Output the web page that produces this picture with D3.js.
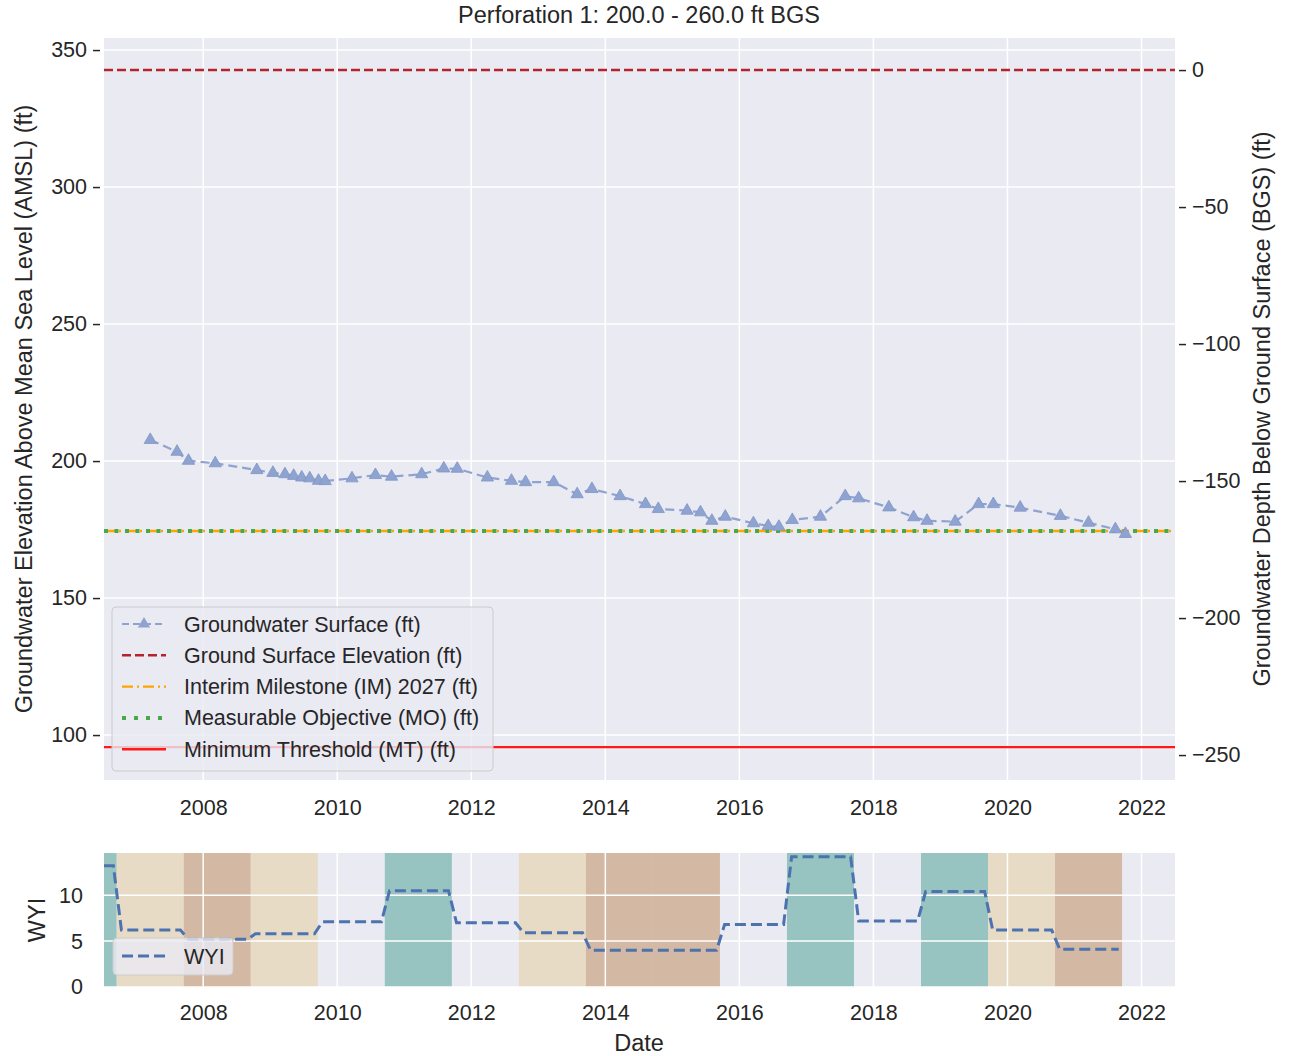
<!DOCTYPE html>
<html>
<head>
<meta charset="utf-8">
<script src="https://cdn.jsdelivr.net/npm/d3@7"></script>
<style>
  body { margin: 0; background: #fff; }
  svg { font-family: "Liberation Sans", Arial, sans-serif; }
</style>
</head>
<body>
<svg id="chart" width="1289" height="1056"></svg>
<script>
(function() {

// groundwater surface elevation readings (decimal year, ft AMSL)
var gwDates = [2007.21, 2007.61, 2007.78, 2008.18, 2008.80, 2009.04, 2009.22, 2009.35, 2009.47, 2009.59,
               2009.72, 2009.82, 2010.22, 2010.57, 2010.81, 2011.26, 2011.59, 2011.79, 2012.24, 2012.60,
               2012.81, 2013.23, 2013.58, 2013.80, 2014.22, 2014.60, 2014.79, 2015.22, 2015.42, 2015.59,
               2015.79, 2016.21, 2016.43, 2016.59, 2016.79, 2017.21, 2017.58, 2017.78, 2018.23, 2018.60,
               2018.80, 2019.22, 2019.57, 2019.79, 2020.19, 2020.79, 2021.21, 2021.61, 2021.76];
var gwValues = [207.7, 203.4, 200.1, 199.2, 196.7, 195.7, 195.2, 194.6, 194.0, 193.7,
                192.8, 192.7, 193.7, 194.9, 194.3, 195.2, 197.3, 197.2, 194.0, 192.8,
                192.3, 192.3, 187.9, 189.8, 187.2, 184.3, 182.5, 181.9, 181.3, 178.2,
                179.7, 177.3, 176.3, 176.0, 178.5, 179.7, 187.2, 186.4, 183.1, 179.5,
                178.2, 177.9, 184.3, 184.3, 183.0, 180.0, 177.5, 175.1, 173.4];

// reference levels (ft AMSL)
var groundSurface = 342.7;
var interimMilestone = 174.5;
var measurableObjective = 174.5;
var minimumThreshold = 95.6;

// water year index
var waterYears = [2006, 2007, 2008, 2009, 2010, 2011, 2012, 2013, 2014, 2015, 2016, 2017, 2018, 2019, 2020, 2021];
var wyiValues  = [13.2, 6.2, 5.2, 5.8, 7.1, 10.5, 7.0, 5.9, 4.0, 4.0, 6.8, 14.2, 7.2, 10.4, 6.2, 4.1];
var wyTypes    = ['W', 'BN', 'D', 'BN', 'AN', 'W', 'AN', 'BN', 'D', 'D', 'AN', 'W', 'AN', 'W', 'BN', 'D'];

var leftTicks = [100, 150, 200, 250, 300, 350];
var rightTicks = [-250, -200, -150, -100, -50, 0];
var yearTicks = [2008, 2010, 2012, 2014, 2016, 2018, 2020, 2022];
var wyiTicks = [0, 5, 10];

var typeColor = { W: '#97c4c0', AN: null, BN: '#e8dbc6', D: '#d3b8a3' };

var svg = d3.select('#chart');
var textColor = '#262626';
var bg = '#eaeaf2';
var tickFont = 21.5;
var labelFont = 23.5;

var plotL = 104, plotR = 1175;
var top1 = 38, bot1 = 780;
var top2 = 853, bot2 = 987;

var x = d3.scaleLinear().domain([2006.52, 2022.5]).range([plotL, plotR]);
var y = d3.scaleLinear().domain([83.6, 354.4]).range([bot1, top1]);
var yRight = d3.scaleLinear()
    .domain([83.6 - groundSurface, 354.4 - groundSurface]).range([bot1, top1]);
var y2 = d3.scaleLinear().domain([0, 14.6]).range([bot2, top2]);

// ---------- top panel ----------
svg.append('rect').attr('x', plotL).attr('y', top1)
    .attr('width', plotR - plotL).attr('height', bot1 - top1).attr('fill', bg);

var g1 = svg.append('g');

g1.selectAll('.hgrid').data(leftTicks).enter().append('line')
    .attr('x1', plotL).attr('x2', plotR)
    .attr('y1', function(d) { return y(d); }).attr('y2', function(d) { return y(d); })
    .attr('stroke', '#fff').attr('stroke-width', 1.5);
g1.selectAll('.vgrid').data(yearTicks).enter().append('line')
    .attr('x1', function(d) { return x(d); }).attr('x2', function(d) { return x(d); })
    .attr('y1', top1).attr('y2', bot1)
    .attr('stroke', '#fff').attr('stroke-width', 1.5);

function hline(v, color, width, dash) {
    g1.append('line')
        .attr('x1', plotL).attr('x2', plotR)
        .attr('y1', y(v)).attr('y2', y(v))
        .attr('stroke', color).attr('stroke-width', width)
        .attr('stroke-dasharray', dash);
}

hline(groundSurface, '#b5242c', 2.4, '9,4');
hline(interimMilestone, '#ffa500', 2.4, '11,4,2,4');
hline(measurableObjective, '#4aa84a', 4, '4,6.5');
hline(minimumThreshold, '#ff1a1a', 2.4, null);

var gwData = gwDates.map(function(d, i) { return [d, gwValues[i]]; });
var gwColor = '#8fa3d1';

g1.append('path').datum(gwData)
    .attr('fill', 'none').attr('stroke', gwColor).attr('stroke-width', 2.2)
    .attr('stroke-dasharray', '9,5')
    .attr('d', d3.line().x(function(d) { return x(d[0]); }).y(function(d) { return y(d[1]); }));

var tri = d3.symbol().type(d3.symbolTriangle).size(65);
g1.selectAll('.gw').data(gwData).enter().append('path')
    .attr('d', tri)
    .attr('transform', function(d) { return 'translate(' + x(d[0]) + ',' + y(d[1]) + ')'; })
    .attr('fill', gwColor).attr('stroke', '#7f95c8').attr('stroke-width', 0.8);

// axes
var leftAxis = svg.append('g').attr('transform', 'translate(' + (plotL - 4) + ',0)')
    .call(d3.axisLeft(y).tickValues(leftTicks).tickSize(7).tickPadding(6));
var rightAxis = svg.append('g').attr('transform', 'translate(' + (plotR + 4) + ',0)')
    .call(d3.axisRight(yRight).tickValues(rightTicks).tickSize(7).tickPadding(6)
        .tickFormat(function(d) { return d < 0 ? '\u2212' + Math.abs(d) : d; }));
var xAxis1 = svg.append('g').attr('transform', 'translate(0,' + bot1 + ')')
    .call(d3.axisBottom(x).tickValues(yearTicks).tickSize(0).tickPadding(20).tickFormat(d3.format('d')));

[leftAxis, rightAxis, xAxis1].forEach(function(a) {
    a.select('.domain').remove();
    a.selectAll('.tick line').attr('stroke', textColor).attr('stroke-width', 1.5);
    a.selectAll('.tick text').attr('fill', textColor).attr('font-size', tickFont)
        .attr('font-family', '"Liberation Sans", Arial, sans-serif');
});

// legend
var legendItems = [
    { label: 'Groundwater Surface (ft)', color: gwColor, width: 2, dash: '7,4', marker: true },
    { label: 'Ground Surface Elevation (ft)', color: '#b5242c', width: 2.4, dash: '9,4' },
    { label: 'Interim Milestone (IM) 2027 (ft)', color: '#ffa500', width: 2.4, dash: '11,4,2,4' },
    { label: 'Measurable Objective (MO) (ft)', color: '#4aa84a', width: 4, dash: '4,8' },
    { label: 'Minimum Threshold (MT) (ft)', color: '#ff1a1a', width: 2.4, dash: null }
];

var leg = svg.append('g').attr('transform', 'translate(112,607)');
leg.append('rect').attr('width', 381).attr('height', 164).attr('rx', 4)
    .attr('fill', bg).attr('fill-opacity', 0.8)
    .attr('stroke', '#cccccc').attr('stroke-width', 1);

var rows = leg.selectAll('.leg').data(legendItems).enter().append('g')
    .attr('transform', function(d, i) { return 'translate(0,' + (17 + i * 31.3) + ')'; });
rows.append('line')
    .attr('x1', 10).attr('x2', 54)
    .attr('stroke', function(d) { return d.color; })
    .attr('stroke-width', function(d) { return d.width; })
    .attr('stroke-dasharray', function(d) { return d.dash; });
rows.filter(function(d) { return d.marker; }).append('path')
    .attr('d', tri).attr('transform', 'translate(32,0)').attr('fill', gwColor);
rows.append('text')
    .attr('x', 72).attr('dy', '0.35em')
    .attr('font-size', tickFont).attr('fill', textColor)
    .text(function(d) { return d.label; });

// titles
svg.append('text').attr('x', 639).attr('y', 23).attr('text-anchor', 'middle')
    .attr('font-size', labelFont).attr('fill', textColor)
    .text('Perforation 1: 200.0 - 260.0 ft BGS');

svg.append('text').attr('transform', 'translate(32,' + ((top1 + bot1) / 2) + ') rotate(-90)')
    .attr('text-anchor', 'middle').attr('font-size', labelFont).attr('fill', textColor)
    .text('Groundwater Elevation Above Mean Sea Level (AMSL) (ft)');

svg.append('text').attr('transform', 'translate(1270,' + ((top1 + bot1) / 2) + ') rotate(-90)')
    .attr('text-anchor', 'middle').attr('font-size', labelFont).attr('fill', textColor)
    .text('Groundwater Depth Below Ground Surface (BGS) (ft)');

// ---------- bottom panel (WYI) ----------
svg.append('rect').attr('x', plotL).attr('y', top2)
    .attr('width', plotR - plotL).attr('height', bot2 - top2).attr('fill', bg);

var g2 = svg.append('g');

var bands = waterYears.map(function(wy, i) {
    return { start: Math.max(wy - 0.29, x.domain()[0]), end: wy + 0.71, type: wyTypes[i] };
}).filter(function(d) { return typeColor[d.type]; });

g2.selectAll('.band').data(bands).enter().append('rect')
    .attr('x', function(d) { return x(d.start); })
    .attr('width', function(d) { return x(d.end) - x(d.start); })
    .attr('y', top2).attr('height', bot2 - top2)
    .attr('fill', function(d) { return typeColor[d.type]; });

g2.selectAll('.hgrid').data(wyiTicks).enter().append('line')
    .attr('x1', plotL).attr('x2', plotR)
    .attr('y1', function(d) { return y2(d); }).attr('y2', function(d) { return y2(d); })
    .attr('stroke', '#fff').attr('stroke-width', 1.5);
g2.selectAll('.vgrid').data(yearTicks).enter().append('line')
    .attr('x1', function(d) { return x(d); }).attr('x2', function(d) { return x(d); })
    .attr('y1', top2).attr('y2', bot2)
    .attr('stroke', '#fff').attr('stroke-width', 1.5);

// each water year held flat from its first month to its last month
var wyiPts = [];
waterYears.forEach(function(wy, i) {
    wyiPts.push([Math.max(wy - 0.22, x.domain()[0]), wyiValues[i]]);
    wyiPts.push([wy + 0.66, wyiValues[i]]);
});
wyiPts[0][0] = x.domain()[0];

g2.append('path').datum(wyiPts)
    .attr('fill', 'none').attr('stroke', '#4c72b0').attr('stroke-width', 3)
    .attr('stroke-dasharray', '11,5')
    .attr('d', d3.line().x(function(d) { return x(d[0]); }).y(function(d) { return y2(d[1]); }));

var yAxis2 = svg.append('g').attr('transform', 'translate(' + (plotL - 4) + ',0)')
    .call(d3.axisLeft(y2).tickValues(wyiTicks).tickSize(0).tickPadding(17));
var xAxis2 = svg.append('g').attr('transform', 'translate(0,' + bot2 + ')')
    .call(d3.axisBottom(x).tickValues(yearTicks).tickSize(0).tickPadding(18).tickFormat(d3.format('d')));
[yAxis2, xAxis2].forEach(function(a) {
    a.select('.domain').remove();
    a.selectAll('.tick text').attr('fill', textColor).attr('font-size', tickFont)
        .attr('font-family', '"Liberation Sans", Arial, sans-serif');
});

var leg2 = svg.append('g').attr('transform', 'translate(113,938)');
leg2.append('rect').attr('width', 120).attr('height', 37).attr('rx', 4)
    .attr('fill', bg).attr('fill-opacity', 0.8)
    .attr('stroke', '#cccccc').attr('stroke-width', 1);
leg2.append('line').attr('x1', 9).attr('x2', 53).attr('y1', 18).attr('y2', 18)
    .attr('stroke', '#4c72b0').attr('stroke-width', 3).attr('stroke-dasharray', '11,5');
leg2.append('text').attr('x', 71).attr('y', 18).attr('dy', '0.35em')
    .attr('font-size', tickFont).attr('fill', textColor).text('WYI');

svg.append('text').attr('transform', 'translate(45,' + ((top2 + bot2) / 2) + ') rotate(-90)')
    .attr('text-anchor', 'middle').attr('font-size', labelFont).attr('fill', textColor)
    .text('WYI');

svg.append('text').attr('x', 639).attr('y', 1051).attr('text-anchor', 'middle')
    .attr('font-size', labelFont).attr('fill', textColor).text('Date');

})();
</script>
</body>
</html>
